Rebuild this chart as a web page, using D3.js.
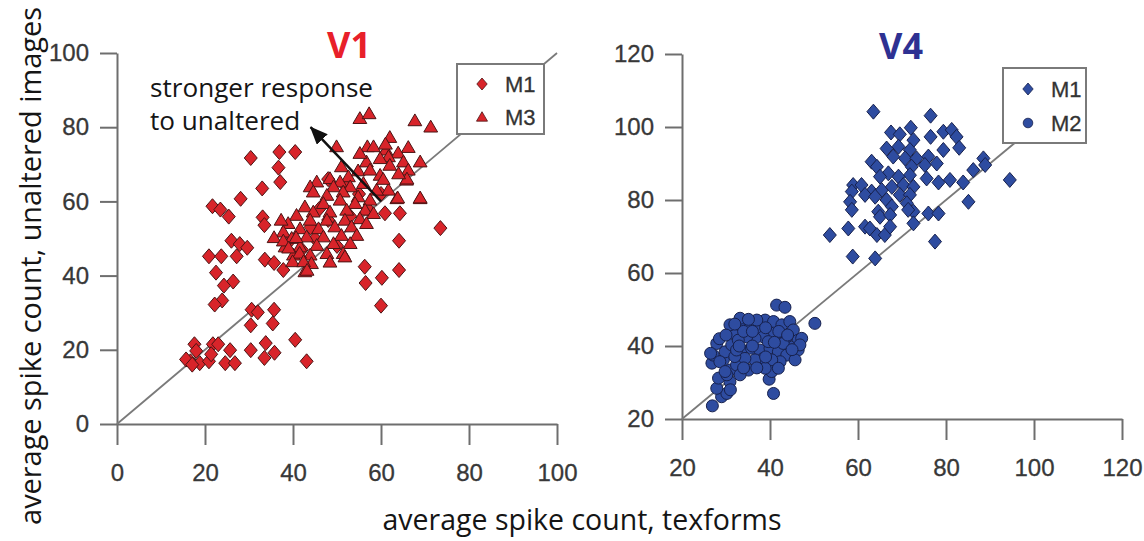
<!DOCTYPE html>
<html>
<head>
<meta charset="utf-8">
<script src="https://cdn.jsdelivr.net/npm/d3@7"></script>
<style>
  html, body { margin: 0; padding: 0; background: #fff; }
  svg { display: block; }
</style>
</head>
<body>
<svg id="chart" width="1144" height="541"></svg>
<script>
// ---- data: average spike count [texforms, unaltered images] per neuron ----
const v1Ticks = [0, 20, 40, 60, 80, 100];
const v4Ticks = [20, 40, 60, 80, 100, 120];

const v1M1 = [
  [30.4,71.7],[36.9,73.3],[40.5,73.3],[36.7,69.1],[37.1,65.2],[33.0,63.5],[28.1,60.7],
  [21.7,58.7],[23.5,57.8],[25.4,55.9],[33.1,55.7],[33.5,53.6],[26.0,49.4],[27.9,48.5],
  [29.6,47.5],[27.2,45.2],[20.9,45.2],[23.7,45.2],[33.6,44.3],[35.7,43.4],[37.8,41.5],
  [22.5,40.8],[26.4,38.4],[24.3,37.3],[23.9,33.3],[22.2,32.2],[30.6,30.8],[32.0,30.1],
  [35.7,30.8],[30.4,26.6],[35.4,27.1],[40.5,22.7],[33.8,21.8],[30.4,19.9],[35.8,19.2],
  [25.7,19.9],[33.5,17.8],[43.1,16.9],[17.6,21.5],[18.0,19.7],[16.7,16.9],[18.8,16.4],
  [20.9,16.9],[21.8,21.5],[23.0,21.5],[24.6,16.4],[26.8,16.4],[21.4,18.8],[15.7,17.4],
  [17.1,16.0],[60.9,56.8],[64.3,56.8],[64.1,49.4],[73.5,52.8],[56.3,42.4],[64.1,41.5],
  [56.5,38.0],[60.2,39.4],[60.0,31.9],[48,55],[50,48],[53,56],[55,62],[52,64],[45,50],
  [57,58],[42,47],[48,66],[60,62],[46,58],[39,49],[44,53]
];

const v1M3 = [
  [55.2,82.4],[57.3,83.7],[67.7,81.8],[71.3,80.1],[62.0,77.3],[56.9,74.8],[58.3,74.8],
  [49.9,74.8],[66.2,74.6],[63.9,73.1],[61.1,73.9],[61.7,72.1],[68.9,70.7],[59.8,71.6],
  [65.1,70.7],[56.7,70.7],[55.2,73.0],[62.0,69.8],[51.0,69.4],[66.2,68.5],[59.8,67.1],
  [54.8,68.3],[57.5,68.5],[65.8,65.8],[52.6,66.7],[48.4,66.2],[50.7,65.3],[61.7,63.1],
  [63.6,60.8],[68.9,60.8],[59.0,63.1],[56.0,64.9],[53.0,64.0],[49.2,64.0],[45.4,65.3],
  [43.9,64.0],[44.6,62.6],[47.7,61.7],[51.4,62.6],[54.8,61.3],[57.5,60.4],[54.1,59.5],
  [50.7,60.4],[46.9,59.5],[42.7,58.6],[56.4,57.7],[52.2,57.7],[48.4,57.2],[44.6,57.2],
  [40.8,56.3],[58.3,56.8],[55.2,55.4],[51.8,55.0],[47.7,55.0],[43.9,55.0],[38.9,54.1],
  [56.7,54.1],[53.3,53.2],[49.5,53.2],[45.8,52.7],[41.6,52.7],[37.8,51.8],[54.5,50.9],
  [51.0,50.9],[46.9,50.5],[43.1,50.5],[39.7,50.1],[53.0,48.7],[49.2,48.7],[45.4,48.2],
  [41.6,47.8],[38.2,47.8],[51.4,46.0],[47.7,46.0],[43.9,45.6],[40.1,45.6],[48.4,43.7],
  [44.2,43.3],[42.7,41.1],[51.8,45.1],[35.7,50.3],[37.3,55.0],[37.8,49.4],[39.0,47.5],
  [40.7,50.3],[41.5,46.1],[39.9,43.8],[42.4,43.8],[43.2,41.5],[68.9,61.0],[63.8,61.0],
  [65.9,66.1],[61.0,75.5],[60.5,66.0],[64.0,67.5]
];

const v4M1 = [
  [63.5,104.2],[76.5,103.1],[67.5,98.5],[69.5,98.0],[72.0,99.8],[72.6,96.4],[76.5,97.3],
  [79.4,98.7],[81.3,99.2],[82.4,97.3],[83.0,94.3],[79.4,93.7],[66.5,94.1],[69.2,94.6],
  [71.8,93.7],[68.0,91.9],[63.1,90.5],[64.3,89.1],[70.7,91.4],[73.3,91.4],[76.0,91.9],
  [72.2,89.1],[75.2,89.6],[77.9,90.0],[88.5,91.4],[88.9,89.6],[86.2,88.2],[94.5,85.5],
  [83.9,84.8],[80.9,85.5],[78.3,84.8],[75.6,85.9],[71.8,86.8],[69.2,86.4],[66.9,87.3],
  [65.0,86.4],[58.9,84.1],[60.8,84.1],[63.1,82.3],[65.4,82.7],[67.7,83.6],[70.3,84.1],
  [72.6,83.6],[58.6,82.3],[58.2,79.5],[61.6,81.4],[63.9,80.9],[66.5,80.0],[69.5,81.4],
  [71.8,81.4],[58.6,77.3],[64.6,76.8],[67.7,78.2],[71.1,79.1],[72.6,76.8],[65.0,75.4],
  [67.3,75.9],[71.4,77.3],[76.0,76.3],[78.3,76.3],[61.6,72.7],[62.7,72.2],[57.8,72.2],
  [53.6,70.4],[64.3,70.4],[66.1,70.4],[67.3,72.7],[72.6,73.6],[85.1,79.5],[77.5,68.6],
  [58.8,64.5],[63.9,64.0]
];

const v4M2 = [
  [41.5,51.2],[43.4,50.6],[50.2,46.2],[26.9,23.6],[40.8,27.0],[39.8,30.9],[29.0,26.1],
  [30.2,27.0],[27.9,28.4],[28.3,31.2],[26.8,35.3],[27.9,40.7],[27.1,37.5],[29.4,36.2],
  [30.9,33.4],[32.4,34.8],[29.8,38.4],[31.3,40.3],[31.7,43.5],[30.9,45.8],[33.6,45.3],
  [35.5,45.8],[37.7,44.8],[38.9,47.1],[40.8,46.7],[42.7,45.8],[44.5,46.7],[45.3,44.4],
  [46.4,41.6],[46.4,38.9],[44.5,39.8],[42.7,41.6],[40.8,43.5],[38.5,42.5],[36.6,42.1],
  [34.7,42.5],[32.8,41.6],[33.6,38.9],[35.8,39.4],[37.7,38.9],[40.0,39.4],[41.9,38.4],
  [43.8,37.5],[45.7,36.2],[42.3,35.7],[40.4,36.2],[38.5,36.6],[36.6,36.2],[34.3,36.6],
  [32.0,37.1],[35.1,33.4],[33.2,32.1],[30.9,30.2],[40.4,33.0],[41.9,33.9],[28.6,35.7],
  [37.0,47.1],[33.2,47.6],[35.1,47.3],[43.8,42.5],[39.6,41.2],[32.4,38.9],[30.2,32.1],
  [38.9,33.9],[43.0,40.7],[47.2,42.1],[46.8,40.3],[29.8,33.0],[28.5,42.0],[26.5,38.0],
  [31.0,28.0],[34.0,44.0],[36.0,40.0],[39.0,45.0],[42.0,44.0],[44.0,43.0],[37.0,34.0],
  [34.0,34.0],[30.0,43.0],[32.0,46.0],[36.0,44.0],[41.0,41.0],[45.0,39.0],[39.0,37.0],
  [33.0,40.0]
];

// arrow annotation, in V1 data units: tail on the diagonal, head toward the upper left
const arrowFrom = [60, 60];
const arrowTo = [44, 80];

// ---- drawing ----
const svg = d3.select("#chart");
const RED = "#d8242a", RED_EDGE = "#4a1414";
const BLUE = "#2e4ca0", BLUE_EDGE = "#17214d";
const AXIS = "#6e6e6e", LABEL = "#383838";

const diamond = "M0,-7.5L6.5,0L0,7.5L-6.5,0Z";
const triangle = "M0,-6.6L6.9,5.2L-6.9,5.2Z";
const circle = d3.symbol(d3.symbolCircle, Math.PI * 6 * 6)();

svg.append("defs").append("marker")
  .attr("id", "arrowhead")
  .attr("markerUnits", "userSpaceOnUse")
  .attr("viewBox", "0 0 18 15")
  .attr("refX", 17).attr("refY", 7.5)
  .attr("markerWidth", 18).attr("markerHeight", 15)
  .attr("orient", "auto")
  .append("path").attr("d", "M0,0L18,7.5L0,15Z").attr("fill", "#111");

function panel(cfg) {
  const x = d3.scaleLinear().domain(cfg.domain).range(cfg.xRange);
  const y = d3.scaleLinear().domain(cfg.domain).range(cfg.yRange);
  const g = svg.append("g");

  const xAxis = g.append("g")
    .attr("transform", `translate(0,${cfg.yRange[0]})`)
    .call(d3.axisBottom(x).tickValues(cfg.ticks).tickSizeInner(21).tickSizeOuter(0).tickPadding(19));
  const yAxis = g.append("g")
    .attr("transform", `translate(${cfg.xRange[0]},0)`)
    .call(d3.axisLeft(y).tickValues(cfg.ticks).tickSizeInner(17).tickSizeOuter(0).tickPadding(11));
  [xAxis, yAxis].forEach(a => {
    a.selectAll("path.domain").attr("stroke", AXIS).attr("stroke-width", 2);
    a.selectAll(".tick line").attr("stroke", AXIS).attr("stroke-width", 2);
    a.selectAll(".tick text")
      .attr("fill", LABEL)
      .attr("stroke", LABEL).attr("stroke-width", 0.3)
      .style("font-family", "'Liberation Sans', Arial, Helvetica, sans-serif")
      .style("font-size", "24px");
  });

  // identity line
  g.append("line")
    .attr("x1", x(cfg.diag[0])).attr("y1", y(cfg.diag[0]))
    .attr("x2", x(cfg.diag[1])).attr("y2", y(cfg.diag[1]))
    .attr("stroke", "#7a7a7a").attr("stroke-width", 1.8);

  cfg.series.forEach(s => {
    g.append("g").selectAll("path")
      .data(s.values)
      .join("path")
      .attr("d", s.shape)
      .attr("transform", d => `translate(${x(d[0])},${y(d[1])})`)
      .attr("fill", s.fill)
      .attr("stroke", s.edge)
      .attr("stroke-width", 1);
  });

  // title
  g.append("text")
    .attr("x", (cfg.xRange[0] + cfg.xRange[1]) / 2 + cfg.titleShift)
    .attr("y", cfg.titleY)
    .attr("text-anchor", "middle")
    .attr("fill", cfg.titleColor)
    .style("font-family", "'Open Sans', 'Noto Sans', sans-serif")
    .style("font-weight", 700)
    .style("font-size", "36px")
    .text(cfg.title);

  // legend
  const lg = g.append("g").attr("transform", `translate(${cfg.legend.x},${cfg.legend.y})`);
  lg.append("rect")
    .attr("width", cfg.legend.w).attr("height", cfg.legend.h)
    .attr("fill", "#fff").attr("stroke", "#7a7a7a").attr("stroke-width", 2);
  cfg.series.forEach((s, i) => {
    const ry = cfg.legend.row0 + i * cfg.legend.rowGap;
    lg.append("path")
      .attr("d", s.shape)
      .attr("transform", `translate(25,${ry}) scale(0.8)`)
      .attr("fill", s.fill).attr("stroke", s.edge).attr("stroke-width", 1);
    lg.append("text")
      .attr("x", 48).attr("y", ry).attr("dy", "0.36em")
      .attr("fill", "#333").attr("stroke", "#333").attr("stroke-width", 0.3)
      .style("font-family", "'Liberation Sans', Arial, Helvetica, sans-serif")
      .style("font-size", "22px")
      .text(s.name);
  });

  return { x, y, g };
}

const left = panel({
  domain: [0, 100], ticks: v1Ticks,
  xRange: [117, 557], yRange: [424, 53],
  diag: [0, 100],
  title: "V1", titleColor: "#e8202a", titleY: 58, titleShift: 12,
  legend: { x: 457, y: 64, w: 87, h: 70, row0: 20, rowGap: 33 },
  series: [
    { name: "M1", values: v1M1, shape: diamond, fill: RED, edge: RED_EDGE },
    { name: "M3", values: v1M3, shape: triangle, fill: RED, edge: RED_EDGE }
  ]
});

panel({
  domain: [20, 120], ticks: v4Ticks,
  xRange: [682, 1122], yRange: [419, 54],
  diag: [20, 100],
  title: "V4", titleColor: "#2e3192", titleY: 59, titleShift: -1,
  legend: { x: 1003, y: 68, w: 83, h: 75, row0: 21, rowGap: 34 },
  series: [
    { name: "M1", values: v4M1, shape: diamond, fill: BLUE, edge: BLUE_EDGE },
    { name: "M2", values: v4M2, shape: circle, fill: BLUE, edge: BLUE_EDGE }
  ]
});

// annotation arrow and text in the V1 panel
left.g.append("line")
  .attr("x1", left.x(arrowFrom[0])).attr("y1", left.y(arrowFrom[1]))
  .attr("x2", left.x(arrowTo[0])).attr("y2", left.y(arrowTo[1]))
  .attr("stroke", "#111").attr("stroke-width", 2.5)
  .attr("marker-end", "url(#arrowhead)");

const FONT = "'Open Sans', 'Noto Sans', sans-serif";

// sets a font size so the string spans the wanted width
function fitText(sel, width, base) {
  sel.style("font-size", base + "px");
  const w = sel.node().getComputedTextLength();
  const size = base * width / w;
  sel.style("font-size", size.toFixed(2) + "px");
  return size;
}

const note1 = svg.append("text")
  .attr("x", 150).attr("y", 97)
  .attr("fill", "#151515").style("font-family", FONT)
  .text("stronger response");
const noteSize = fitText(note1, 223, 24);
svg.append("text")
  .attr("x", 150).attr("y", 130)
  .attr("fill", "#151515").style("font-family", FONT)
  .style("font-size", noteSize.toFixed(2) + "px")
  .text("to unaltered");

// shared axis titles
const xTitle = svg.append("text")
  .attr("x", 582).attr("y", 530)
  .attr("text-anchor", "middle")
  .attr("fill", "#151515").style("font-family", FONT)
  .text("average spike count, texforms");
fitText(xTitle, 399, 25);

const yTitle = svg.append("text")
  .attr("transform", "translate(41,266) rotate(-90)")
  .attr("text-anchor", "middle")
  .attr("fill", "#151515").style("font-family", FONT)
  .text("average spike count, unaltered images");
fitText(yTitle, 518, 25);
</script>
</body>
</html>
